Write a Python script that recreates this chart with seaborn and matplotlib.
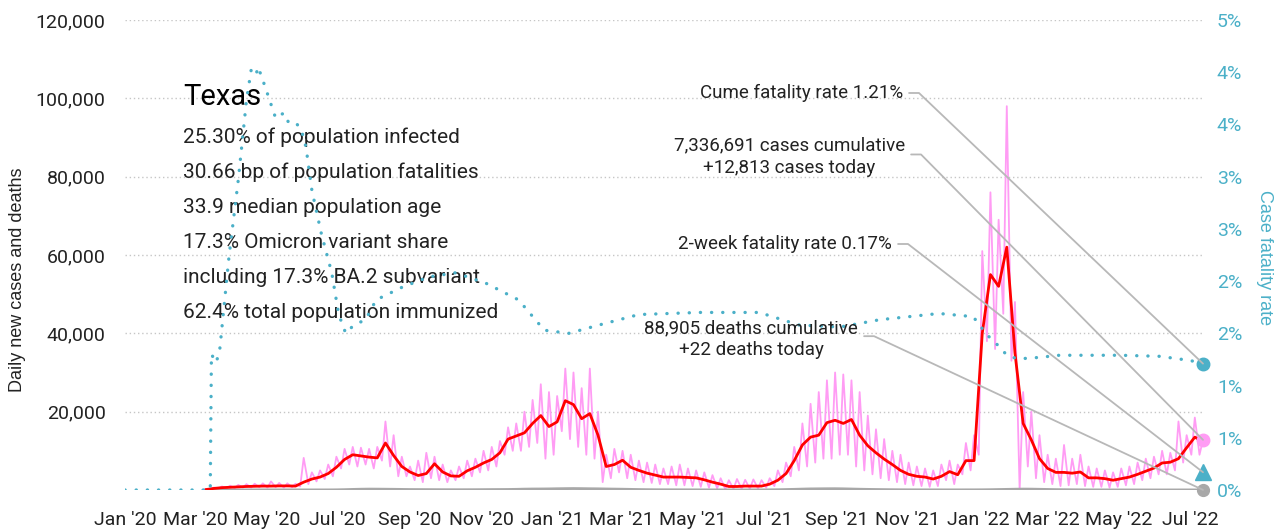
import math
import pandas as pd
import numpy as np
import matplotlib
matplotlib.use("Agg")
import matplotlib.pyplot as plt
import matplotlib.dates as mdates
from matplotlib.ticker import FuncFormatter
import seaborn as sns

# weekly points (Tuesday) from 10 Mar 2020 to 12 Jul 2022
week_start = "2020-03-10"
n_weeks = 123

# 7-day average of new cases
cases_avg = [100, 400, 600, 700, 800, 900, 950, 1000, 1000, 1050,
             1050, 1000, 2000, 2800, 3300, 4200, 5800, 7800, 9000, 8700,
             8400, 8200, 12000, 8800, 6000, 4600, 3700, 4200, 6700, 4600,
             3600, 3500, 4900, 5800, 6900, 7800, 9500, 13000, 13800, 14600,
             17000, 19000, 16200, 17400, 22800, 21800, 18200, 19500, 14000, 6000,
             6500, 7600, 5800, 5000, 4300, 3800, 3300, 3300, 3300, 3200,
             3100, 2600, 2000, 1500, 900, 900, 1000, 1000, 1000, 1500,
             2500, 4200, 7500, 11500, 13500, 14000, 17200, 17800, 17000, 18000,
             14000, 11300, 9500, 7900, 6500, 5000, 4000, 3500, 3300, 2800,
             3500, 4700, 3900, 7500, 7500, 40000, 55000, 52000, 62000, 35000,
             17000, 12800, 8000, 5500, 4500, 4500, 4300, 4600, 3100, 3100,
             2900, 2500, 2900, 3300, 4000, 4800, 5600, 6900, 7100, 8000,
             10800, 13500, 12300]

# daily new cases: mid-week highs and weekend lows
cases_hi = [200, 600, 900, 1100, 1300, 1500, 1600, 1700, 2200, 1800,
            1700, 1600, 8200, 4500, 5000, 6500, 8500, 10500, 11000, 10800,
            10500, 11000, 17500, 14000, 8500, 6000, 7500, 9500, 8500, 6500,
            5000, 6000, 7500, 8000, 10000, 11000, 12500, 16000, 17000, 20000,
            23000, 27000, 25000, 24000, 31000, 30000, 26000, 31000, 20000, 9000,
            10500, 10000, 9000, 7500, 7000, 6500, 5500, 6000, 6500, 5500,
            5000, 4500, 3800, 3000, 2500, 2800, 2600, 2700, 2500, 3000,
            5000, 7000, 11000, 17000, 22000, 25000, 28000, 30000, 29500, 28000,
            25000, 19000, 15500, 13000, 10000, 9000, 7000, 6000, 5500, 5000,
            6500, 7500, 6500, 12000, 14000, 61000, 76000, 69000, 98000, 48000,
            25000, 20000, 14000, 9000, 8000, 11500, 8000, 9000, 6000, 5500,
            5000, 4500, 5500, 6000, 7000, 8000, 8500, 10000, 9500, 17500,
            14000, 18500, 12813]
cases_lo = [0, 200, 400, 400, 500, 600, 600, 700, 600, 700,
            600, 700, 900, 1500, 2200, 2800, 3500, 5500, 6500, 6000,
            6500, 5500, 7500, 6000, 3500, 3500, 2500, 2000, 3000, 2500,
            2000, 2500, 3000, 3500, 4500, 5000, 6000, 9000, 10000, 10000,
            11000, 12000, 8000, 9000, 15000, 13000, 11000, 9000, 8000, 2000,
            3000, 4500, 3000, 2500, 2000, 1800, 1500, 1500, 1200, 1200,
            1000, 800, 600, 400, 200, 300, 300, 300, 400, 600,
            1000, 2000, 3500, 5000, 6000, 7000, 8000, 8000, 9000, 9000,
            6000, 5000, 4000, 3000, 2500, 2000, 1500, 1200, 1000, 800,
            1000, 2500, 1500, 4000, 5000, 9000, 38000, 36000, 45000, 33000,
            0, 6000, 3000, 2000, 1500, 1000, 1200, 1500, 1000, 800,
            800, 600, 800, 1200, 1500, 2500, 3000, 4000, 4000, 5000,
            7000, 9000, 9000]

# daily deaths (7-day average)
deaths = [0, 1, 3, 8, 15, 20, 25, 30, 30, 30,
          30, 28, 25, 25, 27, 30, 45, 90, 150, 200,
          230, 220, 200, 180, 150, 120, 110, 100, 90, 80,
          75, 70, 75, 80, 95, 110, 120, 135, 170, 220,
          250, 260, 280, 320, 350, 370, 350, 320, 300, 260,
          230, 200, 160, 120, 90, 70, 60, 55, 50, 45,
          40, 35, 30, 25, 22, 20, 20, 25, 30, 45,
          75, 120, 170, 230, 280, 300, 320, 330, 300, 250,
          200, 160, 130, 100, 80, 60, 50, 45, 40, 40,
          38, 36, 35, 40, 45, 55, 80, 120, 160, 200,
          230, 220, 180, 140, 100, 80, 60, 45, 35, 30,
          25, 20, 18, 15, 15, 15, 14, 15, 18, 20,
          22, 25, 25]

# case fatality rate (%)
cfr_dates = ['2020-01-01', '2020-03-14', '2020-03-15', '2020-03-19', '2020-03-22',
             '2020-03-30', '2020-04-07', '2020-04-14', '2020-04-18', '2020-04-22',
             '2020-04-24', '2020-04-30', '2020-05-03', '2020-05-09', '2020-05-16',
             '2020-05-20', '2020-05-26', '2020-05-31', '2020-06-04', '2020-06-09',
             '2020-06-17', '2020-06-26', '2020-07-02', '2020-07-08', '2020-07-15',
             '2020-07-25', '2020-08-03', '2020-08-25', '2020-09-17', '2020-10-10',
             '2020-11-05', '2020-12-03', '2020-12-25', '2021-01-15', '2021-02-10',
             '2021-03-16', '2021-05-07', '2021-06-27', '2021-07-31', '2021-09-04',
             '2021-10-08', '2021-11-28', '2021-12-27', '2022-01-02', '2022-01-06',
             '2022-01-10', '2022-01-14', '2022-01-19', '2022-01-25', '2022-02-02',
             '2022-02-11', '2022-02-22', '2022-03-11', '2022-03-28', '2022-05-02',
             '2022-06-05', '2022-07-01', '2022-07-12']
cfr_pct = [0, 0, 1.30, 1.22, 1.33, 2.23, 2.97, 3.73, 4.02, 3.97,
           4.05, 3.86, 3.76, 3.56, 3.61, 3.52, 3.52, 3.45, 3.28, 2.87,
           2.46, 2.08, 1.68, 1.50, 1.58, 1.63, 1.82, 1.94, 2.04, 2.08,
           1.98, 1.82, 1.53, 1.50, 1.58, 1.68, 1.70, 1.70, 1.58, 1.56,
           1.63, 1.69, 1.66, 1.58, 1.51, 1.465, 1.42, 1.37, 1.29, 1.26,
           1.26, 1.27, 1.29, 1.29, 1.29, 1.28, 1.24, 1.21]

cases_today = 12813
deaths_today = 22
cume_cfr = 1.21
two_week_cfr = 0.17

stats = ["25.30% of population infected",
         "30.66 bp of population fatalities",
         "33.9 median population age",
         "17.3% Omicron variant share",
         "including 17.3% BA.2 subvariant",
         "62.4% total population immunized"]

PINK = "#ff9cf4"
RED = "#ff0000"
TEAL = "#4bb0c8"
GREY = "#a8a8a8"
LINEGREY = "#b8b8b8"
DARK = "#222222"

weeks = pd.date_range(week_start, periods=n_weeks, freq="7D")
end = weeks[-1]
end_num = mdates.date2num(end)
weekly = pd.DataFrame({"date": weeks, "avg": cases_avg, "deaths": deaths})
daily = pd.concat([
    pd.DataFrame({"date": weeks, "cases": cases_hi}),
    pd.DataFrame({"date": weeks - pd.Timedelta(days=3), "cases": cases_lo}),
]).sort_values("date")
cfr = pd.DataFrame({"date": pd.to_datetime(cfr_dates), "cfr": np.array(cfr_pct) / 100})

sns.set_style("white")
plt.rcParams["font.family"] = ["Roboto", "DejaVu Sans"]

fig = plt.figure(figsize=(12.82, 5.29), dpi=100)
ax = fig.add_axes([125 / 1282, 39 / 529, 1078 / 1282, 470 / 529])
ax2 = ax.twinx()

sns.lineplot(data=daily, x="date", y="cases", ax=ax, color=PINK, lw=1.3,
             estimator=None, errorbar=None)
sns.lineplot(data=weekly, x="date", y="deaths", ax=ax, color=GREY, lw=2,
             estimator=None, errorbar=None)
sns.lineplot(data=weekly, x="date", y="avg", ax=ax, color=RED, lw=2,
             estimator=None, errorbar=None)
sns.lineplot(data=cfr, x="date", y="cfr", ax=ax2, color=TEAL, lw=2.4,
             linestyle=(0, (0.05, 3.3)), dash_capstyle="round",
             estimator=None, errorbar=None)

# end markers
ax.plot([end_num], [cases_today], "o", color=PINK, ms=9, clip_on=False, zorder=6)
ax.plot([end_num], [deaths_today], "o", color=GREY, ms=8.5, clip_on=False, zorder=6)
ax2.plot([end_num], [cume_cfr / 100], "o", color=TEAL, ms=9, clip_on=False, zorder=6)
ax2.plot([end_num], [two_week_cfr / 100], "^", color=TEAL, ms=11, clip_on=False, zorder=6)

# axes
ax.set_xlim(mdates.date2num(pd.Timestamp("2020-01-01")), end_num)
ax.set_ylim(0, 120000)
ax2.set_ylim(0, 0.045)
ax.set_yticks(np.arange(20000, 120001, 20000))
ax.yaxis.set_major_formatter(FuncFormatter(lambda v, _: f"{v:,.0f}"))
ax2.set_yticks(np.arange(0, 0.0451, 0.005))
ax2.yaxis.set_major_formatter(
    FuncFormatter(lambda v, _: f"{math.floor(v * 100 + 0.5 + 1e-9)}%"))
xt = pd.date_range("2020-01-01", "2022-07-01", freq="2MS")
ax.set_xticks(mdates.date2num(xt))
ax.set_xticklabels([d.strftime("%b '%y") for d in xt])

for a in (ax, ax2):
    for s in a.spines.values():
        s.set_visible(False)
    a.set_xlabel("")
    a.set_ylabel("")
ax.grid(False)
ax2.grid(False)
ax.yaxis.grid(True, color="#c6c6c6", linestyle=(0, (1, 2)), lw=1)
ax.tick_params(axis="both", length=0, labelsize=14, colors=DARK)
ax.tick_params(axis="x", pad=15)
ax.tick_params(axis="y", pad=14)
ax2.tick_params(axis="y", length=0, labelsize=14, colors=TEAL, pad=10)

fig.text(18 / 1282, 1 - 280 / 529, "Daily new cases and deaths", rotation=90,
         ha="center", va="center", fontsize=13, color=DARK,
         family=["Liberation Sans", "DejaVu Sans"])
fig.text(1265 / 1282, 1 - 258 / 529, "Case fatality rate", rotation=270,
         ha="center", va="center", fontsize=13, color=TEAL,
         family=["Liberation Sans", "DejaVu Sans"])

# state summary block
ax.text(0.054, 0.836, "Texas", transform=ax.transAxes, fontsize=21,
        color="black", va="center", ha="left")
for i, line in enumerate(stats):
    ax.text(0.054, (490 - 137 - 35.2 * i) / 470, line, transform=ax.transAxes,
            fontsize=15, color=DARK, va="center", ha="left")

# callouts
def callout(text, xy, xytext, coords, relpos_y):
    ax2.annotate(text, xy=xy, xycoords=coords, xytext=xytext,
                 textcoords="axes fraction", ha="right", va="center",
                 multialignment="center", fontsize=13.5, color=DARK,
                 linespacing=1.3, zorder=7,
                 arrowprops=dict(arrowstyle="-", color=LINEGREY, lw=1.3,
                                 shrinkA=2, shrinkB=0, relpos=(1, relpos_y),
                                 connectionstyle="arc,angleA=0,armA=16,angleB=0,armB=0,rad=0"))

callout(f"Cume fatality rate {cume_cfr:.2f}%", (end_num, cume_cfr / 100),
        (0.7217, 0.8447), ax2.transData, 0.5)
callout("7,336,691 cases cumulative\n+12,813 cases today", (end_num, cases_today),
        (0.7236, 0.7096), ax.transData, 0.55)
callout(f"2-week fatality rate {two_week_cfr:.2f}%", (end_num, two_week_cfr / 100),
        (0.7115, 0.5234), ax2.transData, 0.5)
callout("88,905 deaths cumulative\n+22 deaths today", (end_num, deaths_today),
        (0.680, 0.3213), ax.transData, 0.57)

plt.savefig("out.png", dpi=100)
